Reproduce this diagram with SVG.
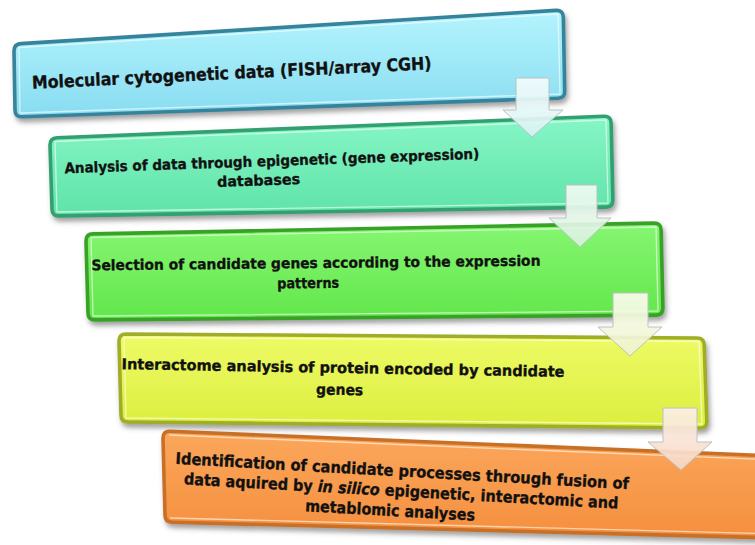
<svg xmlns="http://www.w3.org/2000/svg" width="755" height="545" viewBox="0 0 755 545">
<style>
.t{font-family:"DejaVu Sans","Liberation Sans",sans-serif;font-weight:bold;fill:#111;stroke:#111;stroke-width:.35;text-anchor:middle}
.box{stroke-width:3.6;stroke-linejoin:round;filter:url(#sh)}
.hl{fill:none;stroke:#ffffff;stroke-opacity:.6;stroke-width:1.3;stroke-linejoin:round}
.arrow{stroke:#b8c2c2;stroke-width:1;stroke-linejoin:round}
</style>
<defs>
<filter id="sh" x="-5%" y="-20%" width="110%" height="150%">
<feDropShadow dx="2" dy="4" stdDeviation="2.5" flood-color="#444" flood-opacity=".5"/>
</filter>
<linearGradient id="g1" x1="0" y1="0" x2="0" y2="1"><stop offset="0" stop-color="#b4f4fd"/><stop offset="1" stop-color="#88dcf1"/></linearGradient>
<linearGradient id="g2" x1="0" y1="0" x2="0" y2="1"><stop offset="0" stop-color="#86f6c6"/><stop offset="1" stop-color="#5fe3a9"/></linearGradient>
<linearGradient id="g3" x1="0" y1="0" x2="0" y2="1"><stop offset="0" stop-color="#86f672"/><stop offset="1" stop-color="#62e74b"/></linearGradient>
<linearGradient id="g4" x1="0" y1="0" x2="0" y2="1"><stop offset="0" stop-color="#eefb66"/><stop offset="1" stop-color="#dcee3e"/></linearGradient>
<linearGradient id="g5" x1="0" y1="0" x2="0" y2="1"><stop offset="0" stop-color="#fba75c"/><stop offset="1" stop-color="#f58f3e"/></linearGradient>
<linearGradient id="a1" x1="0" y1="0" x2="0" y2="1"><stop offset="0" stop-color="#f4fcfc"/><stop offset="1" stop-color="#d8f2f3"/></linearGradient>
<linearGradient id="a2" x1="0" y1="0" x2="0" y2="1"><stop offset="0" stop-color="#f2fbf4"/><stop offset="1" stop-color="#d6f1dc"/></linearGradient>
<linearGradient id="a3" x1="0" y1="0" x2="0" y2="1"><stop offset="0" stop-color="#fafcec"/><stop offset="1" stop-color="#eef3cf"/></linearGradient>
<linearGradient id="a4" x1="0" y1="0" x2="0" y2="1"><stop offset="0" stop-color="#fdf0e8"/><stop offset="1" stop-color="#f6d7c4"/></linearGradient>
</defs>
<rect width="755" height="545" fill="#ffffff"/>

<g id="node1">
<path class="box" d="M21,43.6 L556,10.4 Q563,10 563.3,17 L564.7,91 Q565,98 558,98.2 L22,116.8 Q15,117 15,110 L14,51 Q14,44 21,43.6 Z" fill="url(#g1)" stroke="#35849c"/>
<path class="hl" d="M19,47.5 L558,14 L560,94 L20,113 Z"/>
<g transform="translate(232,79) rotate(-2.8)"><text class="t" x="0" y="0" font-size="17.5" textLength="400" lengthAdjust="spacingAndGlyphs">Molecular cytogenetic data (FISH/array CGH)</text></g>
</g>

<g id="node2">
<path class="box" d="M57,137.7 L604,116.3 Q611,116 611.1,123 L612.9,200 Q613,207 606,207.1 L59,215.9 Q52,216 52,209 L50,145 Q50,138 57,137.7 Z" fill="url(#g2)" stroke="#32a06f"/>
<path class="hl" d="M55,141.5 L606,120 L608,203 L57,212 Z"/>
<g transform="translate(272,166) rotate(-2)">
<text class="t" x="0" y="0" font-size="14.5" textLength="415" lengthAdjust="spacingAndGlyphs">Analysis of data through epigenetic (gene expression)</text>
<text class="t" x="-14" y="19" font-size="14.5" textLength="83" lengthAdjust="spacingAndGlyphs">databases</text>
</g>
</g>

<g id="node3">
<path class="box" d="M93,233.9 L654,223.1 Q661,223 661.1,230 L662.9,308 Q663,315 656,315.1 L95,319.9 Q88,320 88,313 L86,241 Q86,234 93,233.9 Z" fill="url(#g3)" stroke="#39a228"/>
<path class="hl" d="M91,237.5 L656,227 L658,311 L93,316 Z"/>
<g transform="translate(316,268) rotate(-0.6)">
<text class="t" x="0" y="0" font-size="14.5" textLength="449" lengthAdjust="spacingAndGlyphs">Selection of candidate genes according to the expression</text>
<text class="t" x="-8" y="20" font-size="14.5" textLength="62" lengthAdjust="spacingAndGlyphs">patterns</text>
</g>
</g>

<g id="node4">
<path class="box" d="M126,334 L697,338 Q704,338 704.2,345 L706.8,421 Q707,428 700,428 L128,422 Q121,422 121,415 L119,341 Q119,334 126,334 Z" fill="url(#g4)" stroke="#a0ad26"/>
<path class="hl" d="M124,337.5 L699,341.5 L702,424 L126,418 Z"/>
<g transform="translate(343,373) rotate(1)">
<text class="t" x="0" y="0" font-size="15" textLength="443" lengthAdjust="spacingAndGlyphs">Interactome analysis of protein encoded by candidate</text>
<text class="t" x="-3" y="22" font-size="15" textLength="47" lengthAdjust="spacingAndGlyphs">genes</text>
</g>
</g>

<g id="node5">
<path class="box" d="M170,431.3 L775,456 L775,538 L172,522.2 Q165,522 165,515 L163,438 Q163,431 170,431.3 Z" fill="url(#g5)" stroke="#c87026"/>
<path class="hl" d="M169,435 L775,460 M775,534 L170,518"/>
<g transform="translate(402,476.5) rotate(3.2)">
<text class="t" x="0" y="0" font-size="16" textLength="454" lengthAdjust="spacingAndGlyphs">Identification of candidate processes through fusion of</text>
<text class="t" x="0" y="20" font-size="16" textLength="435" lengthAdjust="spacingAndGlyphs">data aquired by <tspan font-style="italic">in silico</tspan> epigenetic, interactomic and</text>
<text class="t" x="-10" y="40" font-size="16" textLength="170" lengthAdjust="spacingAndGlyphs">metablomic analyses</text>
</g>
</g>

<g id="connectors">
<path class="arrow" d="M516,78 L549,78 L549,110 L563,110 L532,137 L503,110 L516,110 Z" fill="url(#a1)" fill-opacity=".92"/>
<path class="arrow" d="M566,185 L597,185 L597,218 L611,218 L580,247 L549,218 L566,218 Z" fill="url(#a2)" fill-opacity=".92"/>
<path class="arrow" d="M613,293 L648,293 L648,327 L662,327 L630,356 L598,327 L613,327 Z" fill="url(#a3)" fill-opacity=".92"/>
<path class="arrow" d="M663,408 L697,408 L697,442 L712,442 L681,470 L648,442 L663,442 Z" fill="url(#a4)" fill-opacity=".92"/>
</g>
</svg>
